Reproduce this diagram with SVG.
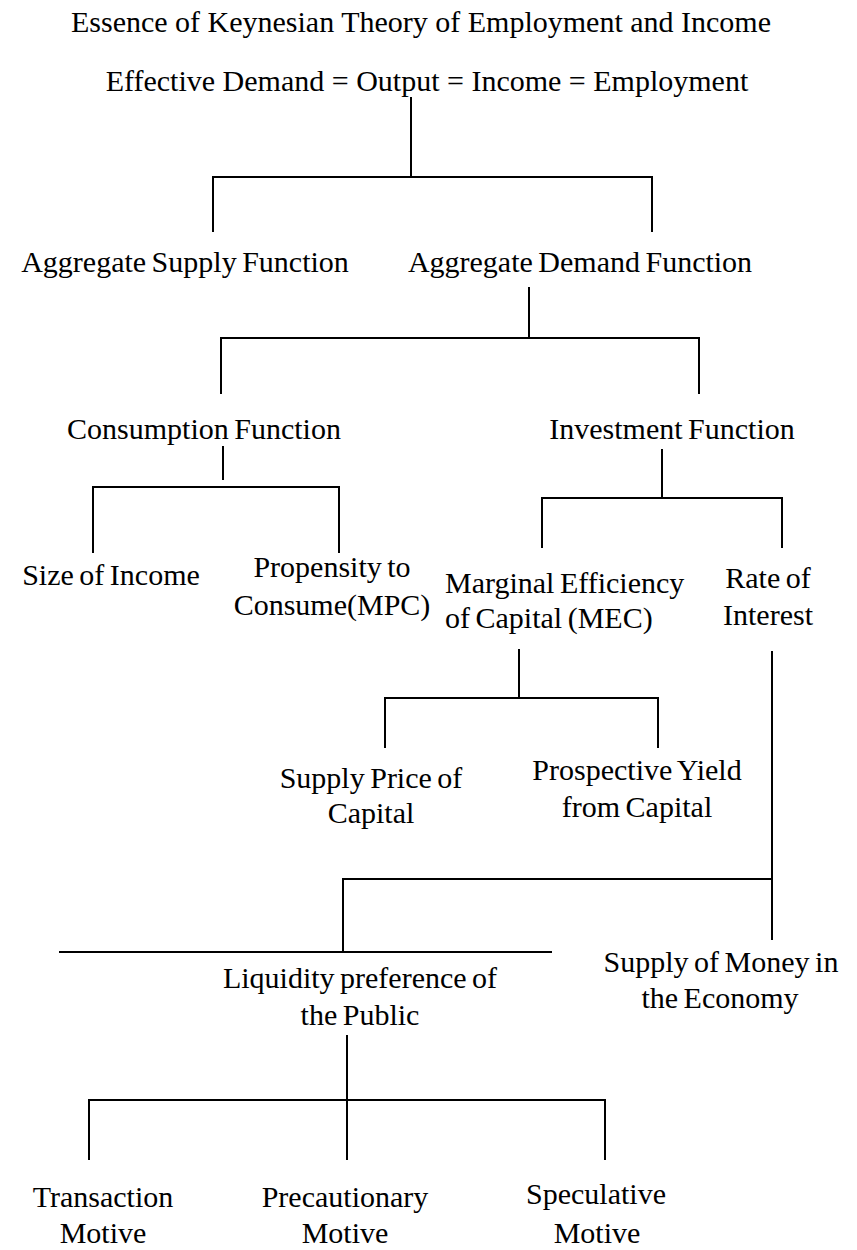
<svg xmlns="http://www.w3.org/2000/svg" width="857" height="1250" viewBox="0 0 857 1250">
<style>
text{font-family:"Liberation Serif","Times New Roman",serif;font-size:30px;fill:#000;text-anchor:middle;word-spacing:-2px}
.l{text-anchor:start}
.w{word-spacing:0}
.c line{stroke:#000;stroke-width:2;fill:none}
</style>
<rect width="857" height="1250" fill="#fff"/>
<g id="title"><text class="w" x="421" y="32">Essence of Keynesian Theory of Employment and Income</text></g>
<g id="effective-demand"><text class="w" x="427" y="91">Effective Demand = Output = Income = Employment</text></g>
<g id="aggregate-supply"><text x="185" y="272">Aggregate Supply Function</text></g>
<g id="aggregate-demand"><text x="580" y="272">Aggregate Demand Function</text></g>
<g id="consumption"><text x="204" y="439">Consumption Function</text></g>
<g id="investment"><text x="672" y="439">Investment Function</text></g>
<g id="size-income"><text x="111" y="585">Size of Income</text></g>
<g id="propensity"><text x="332" y="577">Propensity to</text><text x="332" y="615">Consume(MPC)</text></g>
<g id="mec"><text class="l" x="445" y="593">Marginal Efficiency</text><text class="l" x="445" y="628">of Capital (MEC)</text></g>
<g id="rate-interest"><text x="768" y="588">Rate of</text><text x="768" y="625">Interest</text></g>
<g id="supply-price"><text x="371" y="788">Supply Price of</text><text x="371" y="823">Capital</text></g>
<g id="prospective-yield"><text x="637" y="780">Prospective Yield</text><text x="637" y="817">from Capital</text></g>
<g id="liquidity"><text x="360" y="988">Liquidity preference of</text><text x="360" y="1025">the Public</text></g>
<g id="money-supply"><text x="721" y="972">Supply of Money in</text><text x="720" y="1008">the Economy</text></g>
<g id="transaction"><text x="103" y="1207">Transaction</text><text x="103" y="1243">Motive</text></g>
<g id="precautionary"><text x="345" y="1207">Precautionary</text><text x="345" y="1243">Motive</text></g>
<g id="speculative"><text x="596" y="1204">Speculative</text><text x="597" y="1243">Motive</text></g>
<g id="connectors" class="c">
<line x1="411" y1="97" x2="411" y2="177"/>
<line x1="213" y1="177" x2="652" y2="177"/>
<line x1="213" y1="176" x2="213" y2="232"/>
<line x1="652" y1="176" x2="652" y2="232"/>
<line x1="529" y1="287" x2="529" y2="338"/>
<line x1="221" y1="338" x2="699" y2="338"/>
<line x1="221" y1="337" x2="221" y2="394"/>
<line x1="699" y1="337" x2="699" y2="394"/>
<line x1="223" y1="446" x2="223" y2="480"/>
<line x1="93" y1="487" x2="339" y2="487"/>
<line x1="93" y1="486" x2="93" y2="553"/>
<line x1="339" y1="486" x2="339" y2="553"/>
<line x1="662" y1="449" x2="662" y2="498"/>
<line x1="542" y1="498" x2="782" y2="498"/>
<line x1="542" y1="497" x2="542" y2="548"/>
<line x1="782" y1="497" x2="782" y2="548"/>
<line x1="519" y1="649" x2="519" y2="698"/>
<line x1="385" y1="698" x2="658" y2="698"/>
<line x1="385" y1="697" x2="385" y2="748"/>
<line x1="658" y1="697" x2="658" y2="748"/>
<line x1="772" y1="651" x2="772" y2="940"/>
<line x1="343" y1="879" x2="772" y2="879"/>
<line x1="343" y1="878" x2="343" y2="951"/>
<line x1="59" y1="952" x2="552" y2="952"/>
<line x1="347" y1="1035" x2="347" y2="1160"/>
<line x1="89" y1="1100" x2="605" y2="1100"/>
<line x1="89" y1="1099" x2="89" y2="1160"/>
<line x1="605" y1="1099" x2="605" y2="1160"/>
</g>
</svg>
